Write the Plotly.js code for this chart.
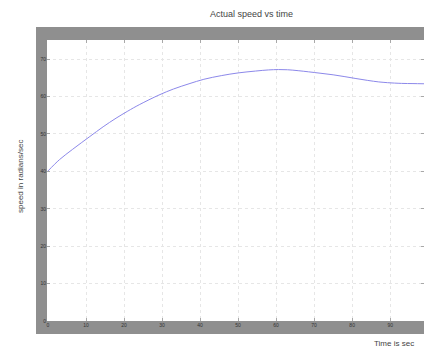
<!DOCTYPE html>
<html>
<head>
<meta charset="utf-8">
<script src="https://cdn.plot.ly/plotly-3.0.1.min.js"></script>
<style>html,body{margin:0;padding:0;background:#fff;}#chart{width:424px;height:352px;}</style>
</head>
<body>
<div id="chart"></div>
<script>
// Data
var timeSec = [0, 3, 6.5, 11, 14.5, 17.9, 21, 24, 29.2, 33, 37.1, 41, 45.7, 50, 54.6, 58, 60.6, 63, 65.8, 68.5, 71.8, 75, 78.1, 81, 84.1, 87, 89.3, 93, 96, 98.9];
var speedRad = [40.1, 43.1, 45.9, 49.3, 51.9, 54.2, 56.1, 57.8, 60.4, 62.0, 63.4, 64.6, 65.6, 66.3, 66.8, 67.1, 67.2, 67.15, 66.9, 66.6, 66.2, 65.8, 65.3, 64.8, 64.3, 63.9, 63.7, 63.5, 63.45, 63.4];
var xTicks = [0, 10, 20, 30, 40, 50, 60, 70, 80, 90];
var yTicks = [0, 10, 20, 30, 40, 50, 60, 70];

var frameGray = '#8f8f8f';
var textCol = '#444444';
var W = 377, H = 281; // plot area in px
function px(dx){ return dx / W; }
function py(dy){ return dy / H; }

var trace = {
  x: timeSec, y: speedRad, type: 'scatter', mode: 'lines',
  line: {color: '#8c88ea', width: 1, shape: 'spline'},
  hoverinfo: 'skip'
};

var axisCommon = {
  showgrid: true, gridcolor: '#e6e6e6', griddash: 'dot', gridwidth: 1,
  zeroline: false, showline: false,
  ticks: 'inside', ticklen: 3, tickcolor: '#a8a8a8', mirror: 'ticks',
  tickfont: {family: 'Liberation Sans, Arial, sans-serif', size: 5, color: '#333'}
};

var layout = {
  width: 424, height: 352,
  margin: {l: 47, r: 0, t: 40, b: 31, pad: 0},
  paper_bgcolor: '#ffffff', plot_bgcolor: '#ffffff',
  showlegend: false,
  title: {
    text: 'Actual speed vs time',
    font: {family: 'Liberation Sans, Arial, sans-serif', size: 9, color: textCol},
    xref: 'container', x: 251.5/424, xanchor: 'center',
    yref: 'container', y: 1 - 14/352, yanchor: 'middle'
  },
  xaxis: Object.assign({}, axisCommon, {
    range: [-0.26, 98.9], tickvals: xTicks, ticktext: xTicks.map(String)
  }),
  yaxis: Object.assign({}, axisCommon, {
    range: [0, 75.1], tickvals: yTicks, ticktext: yTicks.map(String)
  }),
  shapes: [
    {type: 'rect', xref: 'paper', yref: 'paper', x0: -px(11), x1: 0, y0: -py(13), y1: 1 + py(13), fillcolor: frameGray, line: {width: 0}, layer: 'below'},
    {type: 'rect', xref: 'paper', yref: 'paper', x0: -px(11), x1: 1.05, y0: 1, y1: 1 + py(13), fillcolor: frameGray, line: {width: 0}, layer: 'below'},
    {type: 'rect', xref: 'paper', yref: 'paper', x0: -px(11), x1: 1.05, y0: -py(13), y1: 0, fillcolor: frameGray, line: {width: 0}, layer: 'below'}
  ],
  annotations: [
    {text: 'speed in radians/sec', textangle: -90, showarrow: false,
     xref: 'paper', yref: 'paper', x: -px(27), y: py(321 - 176), xanchor: 'center', yanchor: 'middle',
     font: {family: 'Liberation Sans, Arial, sans-serif', size: 8, color: textCol}},
    {text: 'Time is sec', showarrow: false,
     xref: 'paper', yref: 'paper', x: px(372 - 47), y: -py(22), xanchor: 'left', yanchor: 'middle',
     font: {family: 'Liberation Sans, Arial, sans-serif', size: 8, color: textCol}}
  ]
};

Plotly.newPlot('chart', [trace], layout, {staticPlot: true, displayModeBar: false});
</script>
</body>
</html>
